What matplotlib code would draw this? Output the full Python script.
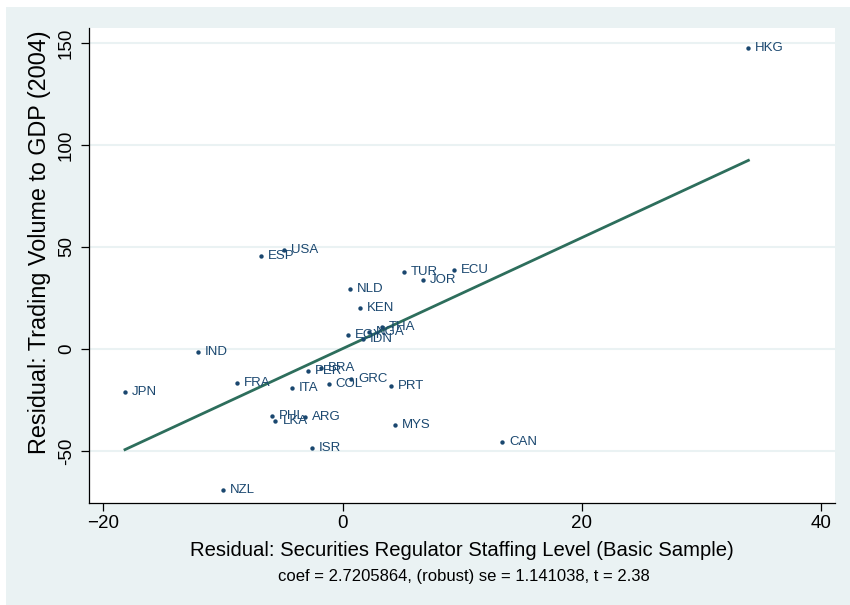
import matplotlib
matplotlib.use("Agg")
import matplotlib.pyplot as plt
import numpy as np
from matplotlib.patches import Rectangle

plt.rcParams['font.family'] = ['Liberation Sans', 'DejaVu Sans']

countries = ["HKG", "USA", "ESP", "TUR", "ECU", "JOR", "NLD", "KEN", "THA", "NGA",
             "IDN", "EGY", "IND", "JPN", "FRA", "NZL", "PHL", "LKA", "ARG", "ITA",
             "COL", "PER", "BRA", "GRC", "PRT", "MYS", "ISR", "CAN"]
x_resid = [33.92, -4.88, -6.83, 5.15, 9.33, 6.74, 0.61, 1.42, 3.26, 2.2,
           1.7, 0.42, -12.12, -18.2, -8.81, -10.03, -5.95, -5.62, -3.15, -4.26,
           -1.17, -2.88, -1.81, 0.69, 4.04, 4.37, -2.57, 13.34]
y_resid = [147.5, 48.5, 45.7, 37.9, 38.6, 34.0, 29.4, 20.1, 10.8, 8.3,
           4.9, 6.9, -1.6, -21.1, -16.7, -69.3, -32.7, -35.3, -33.5, -19.0,
           -17.0, -10.9, -9.2, -14.7, -18.0, -37.3, -48.7, -45.4]
coef = 2.7205864
x_ticks = [-20, 0, 20, 40]
y_ticks = [-50, 0, 50, 100, 150]
xlabel = "Residual: Securities Regulator Staffing Level (Basic Sample)"
ylabel = "Residual: Trading Volume to GDP (2004)"
note = "coef = 2.7205864, (robust) se = 1.141038, t = 2.38"

navy = "#1a476f"
green = "#2d6e5c"
bg = "#eaf2f3"

W, H = 850, 605
fig = plt.figure(figsize=(8.5, 6.05), dpi=100, facecolor="white")
fig.patches.append(Rectangle((6 / W, 0), 1 - 6 / W, 1 - 7 / H, transform=fig.transFigure,
                             facecolor=bg, edgecolor="none", zorder=-10))

L, R, T, B = 89, 835, 28, 503
ax = fig.add_axes([L / W, 1 - B / H, (R - L) / W, (B - T) / H])
ax.set_facecolor("white")

xa = np.array(x_resid)
ya = np.array(y_resid)
intercept = ya.mean() - coef * xa.mean()
xx = np.array([xa.min(), xa.max()])
ax.plot(xx, intercept + coef * xx, color=green, lw=2.0, zorder=3)

ax.scatter(xa, ya, s=10, color=navy, zorder=4, linewidths=0)
for c, x, y in zip(countries, xa, ya):
    ax.annotate(c, (x, y), xytext=(5, 0), textcoords="offset points",
                va="center", ha="left", fontsize=9.5, color=navy, zorder=5)

ax.set_xlim(-21.21, 41.16)
ax.set_ylim(-75.5, 157.35)
ax.set_xticks(x_ticks)
ax.set_yticks(y_ticks)
ax.set_yticklabels([str(v) for v in y_ticks], rotation=90, va="center")
ax.grid(axis="y", color=bg, lw=1.5, zorder=0)
ax.set_axisbelow(True)
for s in ["top", "right"]:
    ax.spines[s].set_visible(False)
for s in ["left", "bottom"]:
    ax.spines[s].set_color("black")
    ax.spines[s].set_linewidth(0.9)
ax.tick_params(axis="both", direction="out", length=6, width=0.9, labelsize=13.5, colors="black")
ax.tick_params(axis="x", pad=3)
ax.tick_params(axis="y", pad=4)

ax.set_xlabel(xlabel, fontsize=14.6, labelpad=6)
ax.set_ylabel(ylabel, fontsize=16.8)
ax.yaxis.set_label_coords((51 - L) / (R - L), (B - 242) / (B - T))

fig.text((275 + 652) / 2 / W, 1 - 577 / H, note, ha="center", va="center", fontsize=12)

fig.savefig("out.png", dpi=100, facecolor=fig.get_facecolor())
